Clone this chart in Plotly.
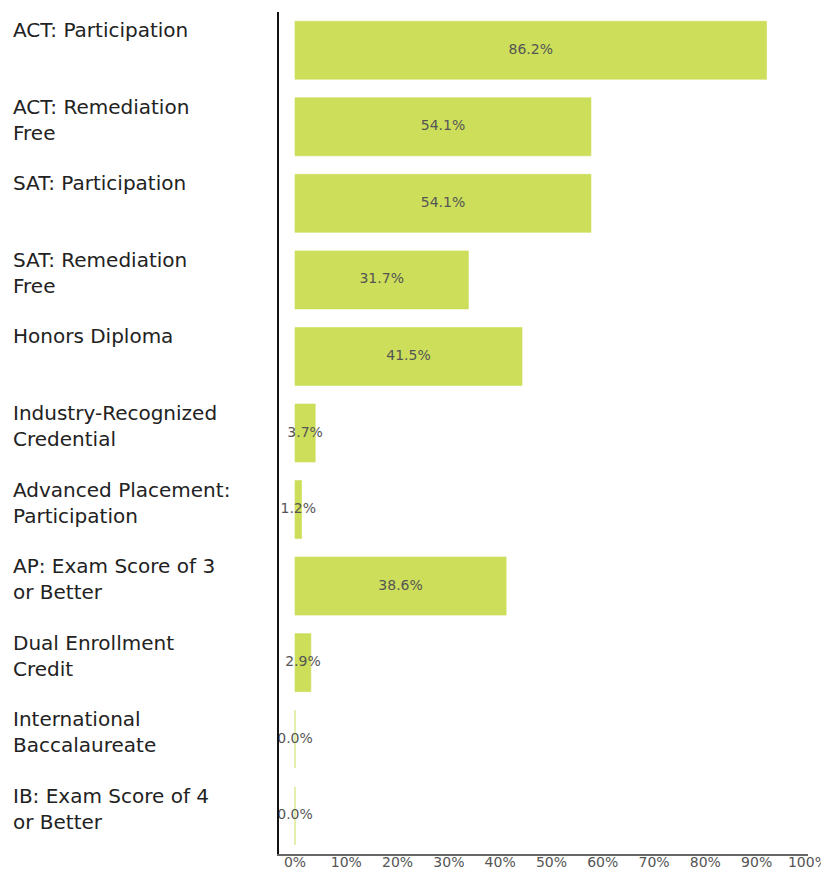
import plotly.graph_objects as go

categories = [
    "ACT: Participation",
    "ACT: Remediation<br>Free",
    "SAT: Participation",
    "SAT: Remediation<br>Free",
    "Honors Diploma",
    "Industry-Recognized<br>Credential",
    "Advanced Placement:<br>Participation",
    "AP: Exam Score of 3<br>or Better",
    "Dual Enrollment<br>Credit",
    "International<br>Baccalaureate",
    "IB: Exam Score of 4<br>or Better",
]
values = [86.2, 54.1, 54.1, 31.7, 41.5, 3.7, 1.2, 38.6, 2.9, 0.0, 0.0]
tick_values = [0, 10, 20, 30, 40, 50, 60, 70, 80, 90, 100]
tick_labels = [f"{t}%" for t in tick_values]

BAR = "#CCDE5A"
OFF = 8  # page body margin
W, H = 829 - OFF, 869 - OFF
L, R, T, B = 279 - OFF, 21, 12 - OFF, 15
plot_w = W - L - R

fig = go.Figure()
fig.add_trace(go.Bar(
    x=values, y=categories, orientation="h",
    marker=dict(color=BAR, line=dict(color=BAR, width=0.6)),
    width=0.758, hoverinfo="skip", showlegend=False,
))
fig.add_trace(go.Scatter(
    x=[v / 2 for v in values], y=categories, mode="text",
    text=[f"{v:.1f}%" for v in values],
    textfont=dict(family="DejaVu Sans", size=14, color="#555555"),
    cliponaxis=True, hoverinfo="skip", showlegend=False,
))
# helper trace for the percentage tick axis
fig.add_trace(go.Scatter(
    x=[0], y=[categories[0]], xaxis="x2", mode="markers",
    marker=dict(opacity=0), hoverinfo="skip", showlegend=False,
))

for c in categories:
    fig.add_annotation(
        x=(3 - L) / plot_w, xref="paper", xanchor="left",
        y=c, yref="y", yanchor="top", yshift=34,
        text=c, showarrow=False, align="left",
        font=dict(family="DejaVu Sans", size=20, color="#222222"),
    )

fig.update_layout(
    width=W, height=H,
    margin=dict(l=L, r=R, t=T, b=B, autoexpand=False),
    paper_bgcolor="white", plot_bgcolor="white",
    xaxis=dict(range=[-2.925, 93.78], visible=False, showgrid=False, zeroline=False,
               automargin=False),
    xaxis2=dict(
        overlaying="x", side="bottom", anchor="y", automargin=False,
        range=[-3.12, 100.01], tickvals=tick_values, ticktext=tick_labels,
        showgrid=False, zeroline=False, showline=True, linecolor="#666666", linewidth=2,
        ticks="", ticklabelstandoff=-6,
        tickfont=dict(family="DejaVu Sans", size=14, color="#555555"),
    ),
    yaxis=dict(
        range=[len(categories) - 0.5, -0.5], showticklabels=False, showgrid=False,
        zeroline=False, showline=True, linecolor="#111111", linewidth=2, ticks="",
        automargin=False,
    ),
)

fig.write_html("out.html")
